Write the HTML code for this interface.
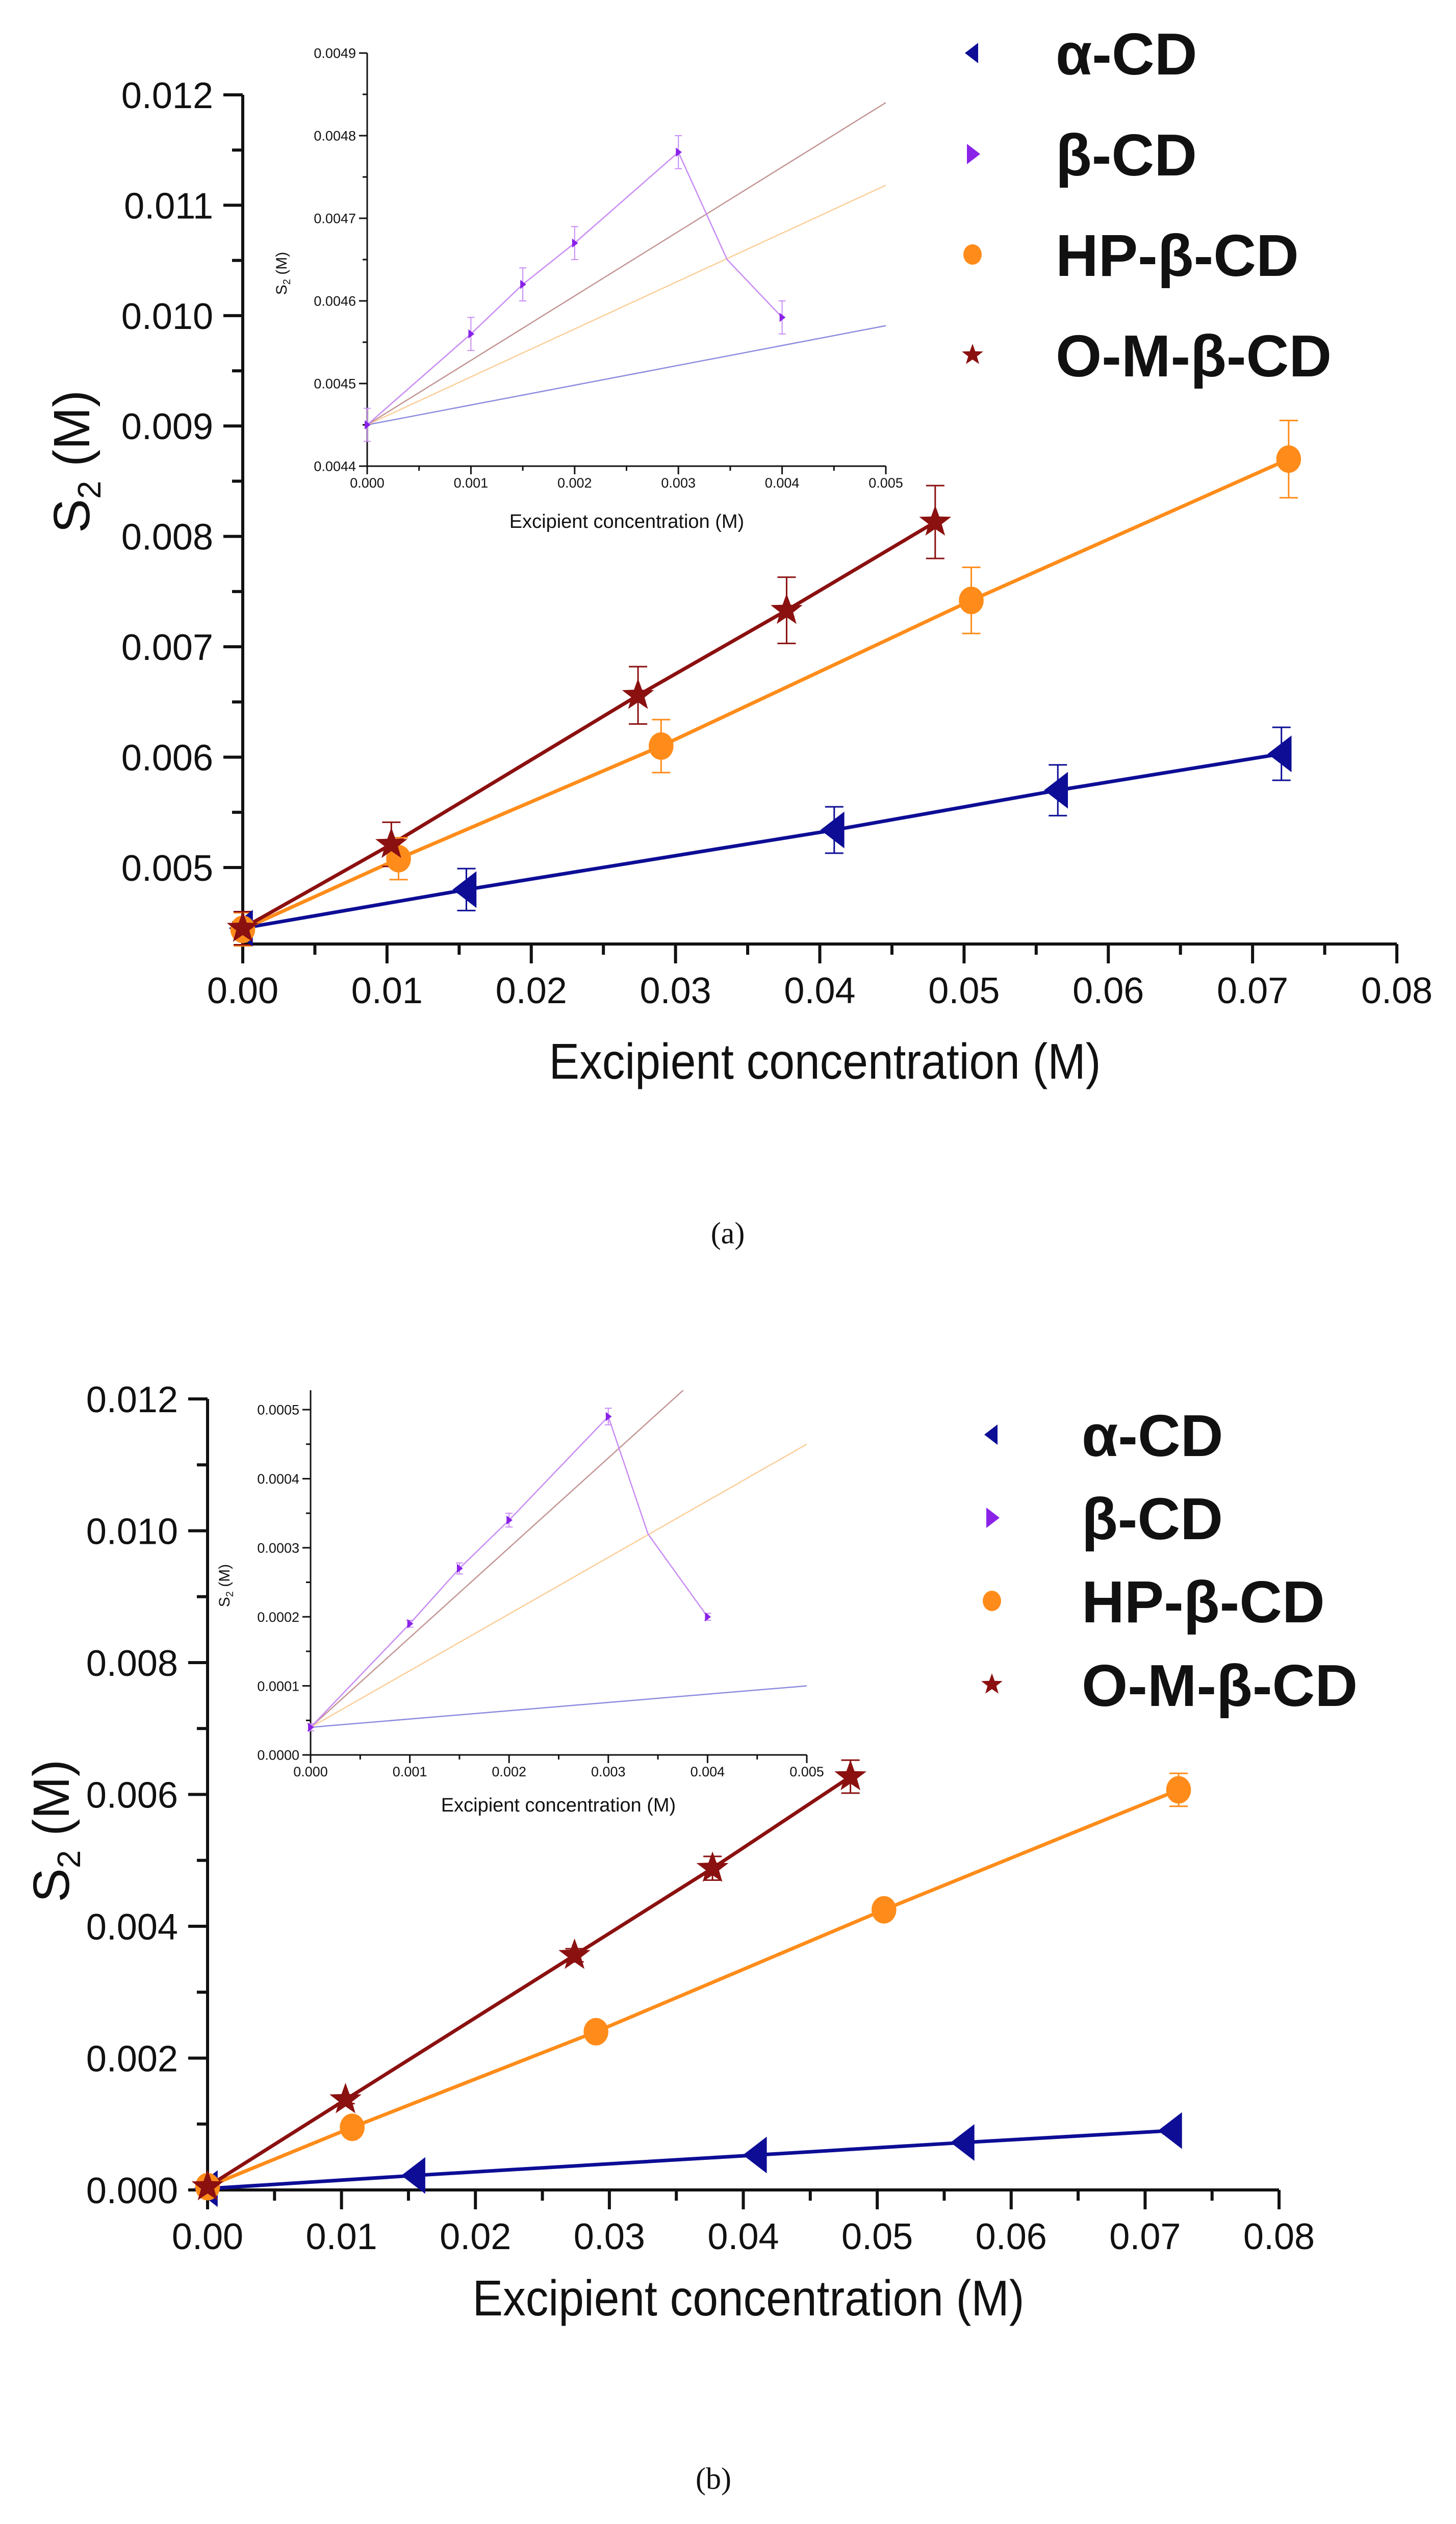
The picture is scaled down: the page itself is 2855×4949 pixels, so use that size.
<!DOCTYPE html>
<html><head><meta charset="utf-8">
<style>
html,body{margin:0;padding:0;background:#fff;}
svg{display:block;font-family:"Liberation Sans",Arial,sans-serif;}
</style></head>
<body>
<svg id="fig" width="2855" height="4949" viewBox="0 0 2855 4949" xmlns="http://www.w3.org/2000/svg">
<rect x="0" y="0" width="2855" height="4949" fill="#ffffff"/>
</svg>
<script>
// ---------- DATA: panel (a) ----------
const seriesNames = ["α-CD","β-CD","HP-β-CD","O-M-β-CD"];
const xTicksMain = [0,0.01,0.02,0.03,0.04,0.05,0.06,0.07,0.08];
const xTickLabelsMain = ["0.00","0.01","0.02","0.03","0.04","0.05","0.06","0.07","0.08"];
const yTicksA = [0.005,0.006,0.007,0.008,0.009,0.010,0.011,0.012];
const yTickLabelsA = ["0.005","0.006","0.007","0.008","0.009","0.010","0.011","0.012"];
const aAlphaX = [0,0.0155,0.041,0.0565,0.072];
const aAlphaY = [0.00445,0.0048,0.00534,0.0057,0.00603];
const aAlphaE = [0.00015,0.00019,0.00021,0.00023,0.00024];
const aHPX = [0,0.0108,0.029,0.0505,0.0725];
const aHPY = [0.00444,0.00508,0.0061,0.00742,0.0087];
const aHPE = [0.00015,0.00019,0.00024,0.0003,0.00035];
const aOMX = [0,0.0103,0.0274,0.0377,0.048];
const aOMY = [0.00445,0.00521,0.00656,0.00733,0.00813];
const aOME = [0.00015,0.0002,0.00026,0.0003,0.00033];
// inset (a)
const insXTicks = [0,0.001,0.002,0.003,0.004,0.005];
const insXTickLabels = ["0.000","0.001","0.002","0.003","0.004","0.005"];
const insYTicksA = [0.0044,0.0045,0.0046,0.0047,0.0048,0.0049];
const insYTickLabelsA = ["0.0044","0.0045","0.0046","0.0047","0.0048","0.0049"];
const aBetaX = [0,0.001,0.0015,0.002,0.003,0.004];
const aBetaY = [0.00445,0.00456,0.00462,0.00467,0.00478,0.00458];
const aBetaE = [0.00002,0.00002,0.00002,0.00002,0.00002,0.00002];
const aBetaLineX = [0,0.001,0.0015,0.002,0.003,0.00347,0.004];
const aBetaLineY = [0.00445,0.00456,0.00462,0.00467,0.00478,0.00465,0.00458];
const aFitX = [0,0.005];
const aFitAlphaY = [0.00445,0.00457];
const aFitHPY = [0.00445,0.00474];
const aFitOMY = [0.00445,0.00484];

// ---------- DATA: panel (b) ----------
const yTicksB = [0,0.002,0.004,0.006,0.008,0.010,0.012];
const yTickLabelsB = ["0.000","0.002","0.004","0.006","0.008","0.010","0.012"];
const bAlphaX = [0,0.0155,0.041,0.0565,0.072];
const bAlphaY = [0.00002,0.00022,0.00053,0.00072,0.0009];
const bAlphaE = [0.00002,0.00003,0.00004,0.00004,0.00005];
const bHPX = [0,0.0108,0.029,0.0505,0.0725];
const bHPY = [0.00005,0.00095,0.0024,0.00425,0.00607];
const bHPE = [0.00003,0.00005,0.00006,0.0001,0.00025];
const bOMX = [0,0.0103,0.0274,0.0377,0.048];
const bOMY = [0.00005,0.00137,0.00356,0.00488,0.00627];
const bOME = [0.00003,0.00006,0.0001,0.00018,0.00025];
const insYTicksB = [0,0.0001,0.0002,0.0003,0.0004,0.0005];
const insYTickLabelsB = ["0.0000","0.0001","0.0002","0.0003","0.0004","0.0005"];
const bBetaX = [0,0.001,0.0015,0.002,0.003,0.004];
const bBetaY = [0.00004,0.00019,0.00027,0.00034,0.00049,0.0002];
const bBetaE = [0.000005,0.000005,0.000008,0.00001,0.000012,0.000005];
const bBetaLineX = [0,0.001,0.0015,0.002,0.003,0.0034,0.004];
const bBetaLineY = [0.00004,0.00019,0.00027,0.00034,0.00049,0.00032,0.0002];
const bFitX = [0,0.005];
const bFitAlphaY = [0.00004,0.0001];
const bFitHPY = [0.00004,0.00045];
const bFitOMY = [0.00004,0.00069];

const NS="http://www.w3.org/2000/svg";
const svg=document.getElementById('fig');
const C={alpha:"#0d0d96",beta:"#8a22e8",hp:"#ff8c1a",om:"#8b1010"};
const CL={alpha:"#8c8ce0",beta:"#c98cf5",hp:"#fbcf9a",om:"#c49696"};

function el(tag,attrs,parent){const e=document.createElementNS(NS,tag);for(const k in attrs)e.setAttribute(k,attrs[k]);(parent||svg).appendChild(e);return e;}
function txt(s,attrs,parent){const e=el('text',attrs,parent);e.textContent=s;return e;}
function lin(d0,d1,r0,r1){return v=>r0+(v-d0)/(d1-d0)*(r1-r0);}

function axes(g,X,Y,xt,xl,yt,yl,o){
  const a1=el('line',{x1:o.x0,y1:o.yb,x2:o.x1,y2:o.yb,stroke:"#111","stroke-width":o.aw},g);
  
  const a2=el('line',{x1:o.x0,y1:o.yb+o.tl,x2:o.x0,y2:o.yt,stroke:"#111","stroke-width":o.aw},g);
  
  xt.forEach((v,i)=>{const x=X(v);
    el('line',{x1:x,y1:o.yb,x2:x,y2:o.yb+o.tl,stroke:"#111","stroke-width":o.aw},g);
    if(i<xt.length-1){const xm=X(v+(xt[1]-xt[0])/2);el('line',{x1:xm,y1:o.yb,x2:xm,y2:o.yb+o.tm,stroke:"#111","stroke-width":o.aw},g);}
    const t=txt(xl[i],{x:x,y:o.yb+o.xly,"text-anchor":"middle","font-size":o.fs,fill:"#111"},g);
    
  });
  yt.forEach((v,i)=>{const y=Y(v);
    el('line',{x1:o.x0-o.tl,y1:y,x2:o.x0,y2:y,stroke:"#111","stroke-width":o.aw},g);
    const t=txt(yl[i],{x:o.x0-o.ylx,y:y+o.fs*0.36,"text-anchor":"end","font-size":o.fs,fill:"#111"},g);
    
  });
  const step=yt[1]-yt[0];
  for(let v=yt[0]-step/2;v<=yt[yt.length-1];v+=step){const y=Y(v);if(y>o.yb-2||y<o.yt)continue;
    el('line',{x1:o.x0-o.tm,y1:y,x2:o.x0,y2:y,stroke:"#111","stroke-width":o.aw},g);}
}
function poly(g,X,Y,xs,ys,color,w,name){
  const p=el('polyline',{points:xs.map((x,i)=>X(x)+","+Y(ys[i])).join(" "),fill:"none",stroke:color,"stroke-width":w,"stroke-linejoin":"round"},g);
  
}
function errs(g,X,Y,xs,ys,es,color,w,cap){
  xs.forEach((x,i)=>{const px=X(x),y1=Y(ys[i]+es[i]),y2=Y(ys[i]-es[i]);
    const e=el('path',{d:`M${px},${y1}V${y2}M${px-cap},${y1}H${px+cap}M${px-cap},${y2}H${px+cap}`,stroke:color,"stroke-width":w,fill:"none"},g);
    });
}
function marker(g,type,cx,cy,s,color){
  let e;
  if(type==='tl') e=el('polygon',{points:`${cx-s*0.75},${cy} ${cx+s*0.55},${cy-s} ${cx+s*0.55},${cy+s}`,fill:color},g);
  else if(type==='tr') e=el('polygon',{points:`${cx+s*0.75},${cy} ${cx-s*0.55},${cy-s} ${cx-s*0.55},${cy+s}`,fill:color},g);
  else if(type==='c') e=el('ellipse',{cx:cx,cy:cy,rx:s*0.9,ry:s,fill:color},g);
  else { let pts=[];for(let k=0;k<10;k++){const r=k%2?s*0.45:s*1.1;const a=-Math.PI/2+k*Math.PI/5;pts.push((cx+r*Math.cos(a)).toFixed(1)+","+(cy+r*Math.sin(a)).toFixed(1));}
    e=el('polygon',{points:pts.join(" "),fill:color},g);}
  return e;
}
function marks(g,X,Y,xs,ys,type,s,color,name){
  xs.forEach((x,i)=>{const m=marker(g,type,X(x),Y(ys[i]),s,color);
    });
}
function legend(g,x0,tx,rows,fs,ms){
  const types=['tl','tr','c','s'];const cols=[C.alpha,C.beta,C.hp,C.om];
  seriesNames.forEach((n,i)=>{
    const m=marker(g,types[i],x0,rows[i],ms,cols[i]);
    
    const t=txt(n,{x:tx,y:rows[i]+fs*0.36,"font-size":fs,"font-weight":"bold",fill:"#111"},g);
    
  });
}

function panel(P){
  const g=el('g',{});
  
  const X=lin(0,0.08,P.x0,P.x8), Y=lin(P.yv0,P.yv1,P.yp0,P.yp1);
  axes(g,X,Y,xTicksMain,xTickLabelsMain,P.yt,P.yl,{x0:P.x0,x1:P.x8,yb:P.yb,yt:P.ytop,aw:6,tl:38,tm:21,fs:72,xly:116,ylx:58});
  const xt=txt("Excipient concentration (M)",{x:(P.x0+P.x8)/2+10,y:P.xtitleY,"text-anchor":"middle","font-size":98,fill:"#111",textLength:1082,lengthAdjust:"spacingAndGlyphs"},g);
  
  const yt=el('text',{transform:`translate(${P.ytitleX},${P.ytitleY}) rotate(-90)`,"text-anchor":"middle","font-size":100,fill:"#111"},g);
  yt.innerHTML='S<tspan font-size="64" dy="22">2</tspan><tspan dy="-22"> (M)</tspan>';
  
  const D=P.data;
  poly(g,X,Y,D.alX,D.alY,C.alpha,7,'alpha-cd-line');
  poly(g,X,Y,D.hpX,D.hpY,C.hp,7,'hp-beta-cd-line');
  poly(g,X,Y,D.omX,D.omY,C.om,7,'om-beta-cd-line');
  errs(g,X,Y,D.alX,D.alY,D.alE,C.alpha,3,18);
  errs(g,X,Y,D.hpX,D.hpY,D.hpE,C.hp,3,18);
  errs(g,X,Y,D.omX,D.omY,D.omE,C.om,3,18);
  marks(g,X,Y,D.alX,D.alY,'tl',36,C.alpha,'alpha-cd-point');
  marks(g,X,Y,D.hpX,D.hpY,'c',27,C.hp,'hp-beta-cd-point');
  marks(g,X,Y,D.omX,D.omY,'s',30,C.om,'om-beta-cd-point');
  const ig=el('g',{},g);
  
  const I=P.inset;
  const IX=lin(0,0.005,I.x0,I.x5), IY=lin(I.yv0,I.yv1,I.yp0,I.yp1);
  axes(ig,IX,IY,insXTicks,insXTickLabels,I.yt,I.yl,{x0:I.x0,x1:I.x5,yb:I.yb,yt:I.ytop,aw:3,tl:16,tm:9,fs:27,xly:42,ylx:22});
  const ixt=txt("Excipient concentration (M)",{x:I.titleX,y:I.titleY,"text-anchor":"middle","font-size":38,fill:"#111"},ig);
  
  const iyt=el('text',{transform:`translate(${I.ytX},${I.ytY}) rotate(-90)`,"text-anchor":"middle","font-size":30,fill:"#111"},ig);
  iyt.innerHTML='S<tspan font-size="20" dy="7">2</tspan><tspan dy="-7"> (M)</tspan>';
  
  const clip=el('clipPath',{id:P.name+'-clip'},ig);
  el('rect',{x:I.x0,y:I.ytop,width:I.x5-I.x0+2,height:I.yb-I.ytop},clip);
  const cg=el('g',{'clip-path':`url(#${P.name}-clip)`},ig);
  poly(cg,IX,IY,I.fitX,I.fitAl,CL.alpha,2.5,'inset-alpha-fit');
  poly(cg,IX,IY,I.fitX,I.fitHP,CL.hp,2.5,'inset-hp-fit');
  poly(cg,IX,IY,I.fitX,I.fitOM,CL.om,2.5,'inset-om-fit');
  poly(cg,IX,IY,I.blX,I.blY,CL.beta,2.5,'inset-beta-line');
  errs(ig,IX,IY,I.bX,I.bY,I.bE,CL.beta,2,7);
  marks(ig,IX,IY,I.bX,I.bY,'tr',9,C.beta,'beta-cd-point');
  legend(g,P.legX,P.legTX,P.legRows,116,20);
}

panel({name:'panel-a',x0:476,x8:2739,yv0:0.005,yv1:0.012,yp0:1701,yp1:186,yb:1851,ytop:186,
  yt:yTicksA,yl:yTickLabelsA,xtitleY:2115,ytitleX:175,ytitleY:905,
  data:{alX:aAlphaX,alY:aAlphaY,alE:aAlphaE,hpX:aHPX,hpY:aHPY,hpE:aHPE,omX:aOMX,omY:aOMY,omE:aOME},
  inset:{x0:720,x5:1737,yv0:0.0044,yv1:0.0049,yp0:914,yp1:104,yb:914,ytop:104,yt:insYTicksA,yl:insYTickLabelsA,
    titleX:1229,titleY:1035,ytX:562,ytY:536,fitX:aFitX,fitAl:aFitAlphaY,fitHP:aFitHPY,fitOM:aFitOMY,
    bX:aBetaX,bY:aBetaY,bE:aBetaE,blX:aBetaLineX,blY:aBetaLineY},
  legX:1907,legTX:2070,legRows:[104,302,499,696]});

panel({name:'panel-b',x0:407,x8:2508,yv0:0,yv1:0.012,yp0:4294,yp1:2743,yb:4294,ytop:2743,
  yt:yTicksB,yl:yTickLabelsB,xtitleY:4540,ytitleX:135,ytitleY:3590,
  data:{alX:bAlphaX,alY:bAlphaY,alE:bAlphaE,hpX:bHPX,hpY:bHPY,hpE:bHPE,omX:bOMX,omY:bOMY,omE:bOME},
  inset:{x0:609,x5:1582,yv0:0,yv1:0.0005,yp0:3441,yp1:2764,yb:3441,ytop:2726,yt:insYTicksB,yl:insYTickLabelsB,
    titleX:1095,titleY:3552,ytX:450,ytY:3109,fitX:bFitX,fitAl:bFitAlphaY,fitHP:bFitHPY,fitOM:bFitOMY,
    bX:bBetaX,bY:bBetaY,bE:bBetaE,blX:bBetaLineX,blY:bBetaLineY},
  legX:1945,legTX:2121,legRows:[2813,2976,3139,3303]});

const ca=txt("(a)",{x:1427,y:2438,"text-anchor":"middle","font-size":60,"font-family":"Liberation Serif, serif",fill:"#111"});

const cb=txt("(b)",{x:1399,y:4880,"text-anchor":"middle","font-size":60,"font-family":"Liberation Serif, serif",fill:"#111"});

</script>
</body></html>
